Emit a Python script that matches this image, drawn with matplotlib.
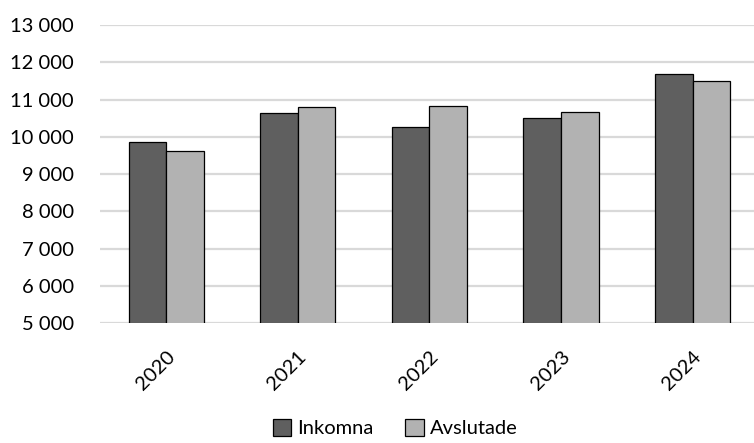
import matplotlib
matplotlib.use("Agg")
import matplotlib.pyplot as plt
import numpy as np
from matplotlib.ticker import FuncFormatter, MultipleLocator

years = ["2020", "2021", "2022", "2023", "2024"]
inkomna = [9870, 10650, 10275, 10515, 11695]
avslutade = [9630, 10805, 10840, 10680, 11485]
series_names = ["Inkomna", "Avslutade"]

plt.rcParams['font.family'] = ['Lato', 'DejaVu Sans']

W, H = 754, 443
fig = plt.figure(figsize=(W/100, H/100), dpi=100)
left = 100.2 / W
right = 758.5 / W
bottom = 1 - 323.3 / H
top = 1 - 25 / H
ax = fig.add_axes([left, bottom, right - left, top - bottom])

x = np.arange(len(years))
bw = 0.285
ax.bar(x - bw/2, inkomna, bw, color="#5f5f5f", edgecolor="#000000", linewidth=0.9,
       label=series_names[0], zorder=3)
ax.bar(x + bw/2, avslutade, bw, color="#b2b2b2", edgecolor="#000000", linewidth=0.9,
       label=series_names[1], zorder=3)

ax.set_xlim(-0.5, len(years) - 0.5)
ax.set_ylim(5000, 13000)
ax.yaxis.set_major_locator(MultipleLocator(1000))
ax.yaxis.set_major_formatter(FuncFormatter(lambda v, p: f"{int(v):,}".replace(",", " ")))
ax.grid(axis="y", color="#d9d9d9", linewidth=1.6, zorder=0)
for s in ax.spines.values():
    s.set_visible(False)
ax.tick_params(axis="both", length=0, labelsize=14.5, colors="#000000")
ax.tick_params(axis="y", pad=19)
ax.set_xticks(x)
ax.set_xticklabels(years, rotation=45, ha="right", va="top", rotation_mode="anchor")
ax.tick_params(axis="x", pad=18)

fig.legend(loc="center", bbox_to_anchor=(0.524, 1 - 428 / H), ncol=2, frameon=False,
           fontsize=14.5, handlelength=0.9, handleheight=0.9, handletextpad=0.3,
           columnspacing=1.6)

fig.savefig("out.png", dpi=100)
